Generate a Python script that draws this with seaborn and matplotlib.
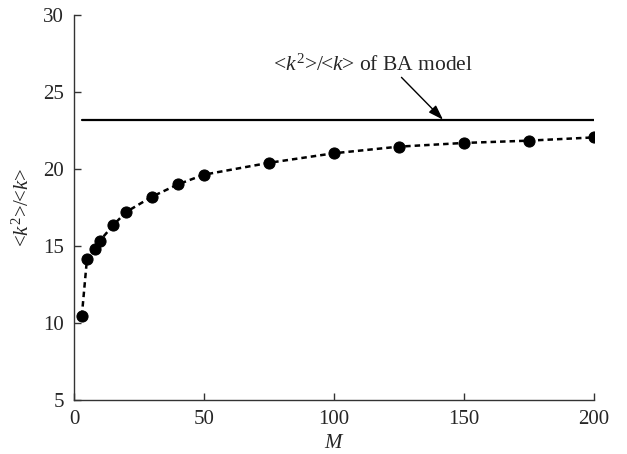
import matplotlib
matplotlib.use("Agg")
import matplotlib.pyplot as plt
import seaborn as sns
import pandas as pd

# Data
M = [3, 5, 8, 10, 15, 20, 30, 40, 50, 75, 100, 125, 150, 175, 200]
ratio = [10.45, 14.16, 14.8, 15.35, 16.33, 17.2, 18.2, 19.0, 19.63, 20.4, 21.02, 21.45, 21.69, 21.84, 22.05]
ba_M = [3, 200]
ba_ratio = [23.2, 23.2]
x_ticks = [0, 50, 100, 150, 200]
y_ticks = [5, 10, 15, 20, 25, 30]
label_pos = (115, 26.75)
arrow_tail = (126, 25.95)
arrow_head = (142, 23.2)

sns.set_theme(style="ticks")
plt.rcParams["font.family"] = ["Liberation Serif", "DejaVu Serif"]
plt.rcParams["mathtext.fontset"] = "custom"
plt.rcParams["mathtext.rm"] = "Liberation Serif"
plt.rcParams["mathtext.it"] = "Liberation Serif:italic"

df = pd.DataFrame({"M": M, "ratio": ratio})
ba = pd.DataFrame({"M": ba_M, "ratio": ba_ratio})

fig = plt.figure(figsize=(6.27, 4.54), dpi=100)
ax = fig.add_axes([0.118, 0.119, 0.829, 0.848])

sns.lineplot(data=ba, x="M", y="ratio", ax=ax, color="black", linewidth=1.6)
sns.lineplot(data=df, x="M", y="ratio", ax=ax, color="black", linewidth=1.8,
             marker="o", markersize=8, markeredgecolor="black", markerfacecolor="black",
             linestyle=(0, (2.2, 1.6)))

ax.set_xlim(0, 200)
ax.set_ylim(5, 30)
ax.set_xticks(x_ticks)
ax.set_yticks(y_ticks)
ax.tick_params(direction="in", length=5, width=1, color="#333333", labelsize=15)
ax.tick_params(axis="x", pad=7)
ax.tick_params(axis="y", pad=7)
for s in ["top", "right"]:
    ax.spines[s].set_visible(False)
for s in ["left", "bottom"]:
    ax.spines[s].set_color("#333333")
    ax.spines[s].set_linewidth(1.0)

ax.set_xlabel(r"$\mathit{M}$", fontsize=15, labelpad=4)
ax.set_ylabel(r"<$\mathit{k}^2$>/<$\mathit{k}$>", fontsize=15, labelpad=7)

ax.text(label_pos[0], label_pos[1], r"<$\mathit{k}^2$>/<$\mathit{k}$> of BA model",
        ha="center", va="center", fontsize=15.5)
ax.annotate("", xy=arrow_head, xytext=arrow_tail,
            arrowprops=dict(arrowstyle="-|>,head_length=0.6,head_width=0.2", color="black", lw=1.0,
                            shrinkA=0, shrinkB=0, mutation_scale=15))

fig.savefig("out.png", dpi=100)
